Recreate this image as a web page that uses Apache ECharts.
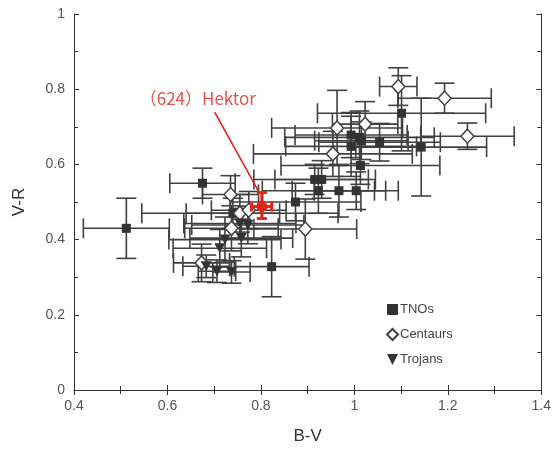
<!DOCTYPE html>
<html>
<head>
<meta charset="utf-8">
<script src="https://cdn.jsdelivr.net/npm/echarts@6/dist/echarts.min.js"></script>
<style>
  html, body { margin: 0; padding: 0; background: #fff; }
  #chart { width: 554px; height: 450px; }
</style>
</head>
<body>
<div id="chart"></div>
<script>
// [B-V, V-R, err B-V, err V-R]
const tnos = [
  [0.512, 0.43, 0.092, 0.08],
  [0.675, 0.55, 0.07, 0.04],
  [0.823, 0.328, 0.08, 0.08],
  [0.874, 0.50, 0.14, 0.05],
  [0.915, 0.56, 0.13, 0.04],
  [0.930, 0.56, 0.10, 0.05],
  [0.923, 0.53, 0.12, 0.06],
  [0.967, 0.53, 0.10, 0.07],
  [1.004, 0.53, 0.09, 0.05],
  [0.993, 0.678, 0.12, 0.06],
  [1.011, 0.672, 0.16, 0.07],
  [1.015, 0.663, 0.10, 0.05],
  [0.993, 0.648, 0.14, 0.08],
  [1.054, 0.659, 0.13, 0.05],
  [1.013, 0.597, 0.17, 0.05],
  [1.101, 0.736, 0.18, 0.10],
  [1.143, 0.646, 0.14, 0.13],
  [0.740, 0.47, 0.10, 0.04]
];
const centaurs = [
  [1.094, 0.807, 0.04, 0.05],
  [1.193, 0.776, 0.10, 0.04],
  [1.242, 0.675, 0.10, 0.035],
  [0.963, 0.697, 0.14, 0.10],
  [1.023, 0.707, 0.07, 0.06],
  [0.954, 0.628, 0.17, 0.06],
  [0.895, 0.428, 0.11, 0.08],
  [0.735, 0.52, 0.06, 0.05],
  [0.755, 0.47, 0.21, 0.05],
  [0.737, 0.43, 0.10, 0.06],
  [0.673, 0.338, 0.06, 0.05],
  [0.774, 0.478, 0.08, 0.05]
];
const trojans = [
  [0.755, 0.443, 0.12, 0.04],
  [0.772, 0.439, 0.12, 0.05],
  [0.758, 0.404, 0.11, 0.05],
  [0.723, 0.400, 0.12, 0.06],
  [0.712, 0.377, 0.10, 0.05],
  [0.683, 0.329, 0.05, 0.03],
  [0.706, 0.316, 0.04, 0.03],
  [0.737, 0.314, 0.04, 0.03]
];
// Hektor: [B-V, V-R, B-V lo, B-V hi, V-R lo, V-R hi]
const hektor = [[0.802, 0.488, 0.780, 0.823, 0.456, 0.525]];
const hektorLabel = '（624）Hektor';
const labelPos = [0.665, 0.776];
const arrowLine = [[0.701, 0.739], [0.795, 0.528]];

const xTicks = [0.4, 0.6, 0.8, 1, 1.2, 1.4];
const yTicks = [0, 0.2, 0.4, 0.6, 0.8, 1];

// rows -> [x, y, xlo, xhi, ylo, yhi]
function toErr(rows) {
  return rows.map(r => [r[0], r[1], r[0] - r[2], r[0] + r[2], r[1] - r[3], r[1] + r[3]]);
}

function errRender(color, width, cap) {
  return function (params, api) {
    const x = api.value(0), y = api.value(1);
    const l = api.coord([api.value(2), y]), r = api.coord([api.value(3), y]);
    const b = api.coord([x, api.value(4)]), t = api.coord([x, api.value(5)]);
    const st = { stroke: color, lineWidth: width, fill: null };
    const seg = (x1, y1, x2, y2) => ({ type: 'line', shape: { x1, y1, x2, y2 }, style: st });
    return {
      type: 'group',
      children: [
        seg(l[0], l[1], r[0], r[1]),
        seg(l[0], l[1] - cap, l[0], l[1] + cap),
        seg(r[0], r[1] - cap, r[0], r[1] + cap),
        seg(b[0], b[1], t[0], t[1]),
        seg(b[0] - cap, b[1], b[0] + cap, b[1]),
        seg(t[0] - cap, t[1], t[0] + cap, t[1])
      ]
    };
  };
}

const errData = toErr(tnos).concat(toErr(centaurs), toErr(trojans));
const triDown = 'path://M0,0 L10,0 L5,10 Z';
const ink = '#404040';
const red = '#e0251a';

const chart = echarts.init(document.getElementById('chart'));

const axisCommon = {
  type: 'value',
  axisLine: { show: true, lineStyle: { color: '#333', width: 1 } },
  axisTick: { show: true, inside: true, length: 5, lineStyle: { color: '#333' } },
  minorTick: { show: true, splitNumber: 2, length: 4, lineStyle: { color: '#333' } },
  splitLine: { show: false },
  interval: 0.2
};

chart.setOption({
  animation: false,
  backgroundColor: '#fff',
  grid: { left: 74, right: 12, top: 14, bottom: 57 },
  xAxis: [
    Object.assign({}, axisCommon, {
      min: 0.4, max: 1.4,
      name: 'B-V', nameLocation: 'middle', nameGap: 38,
      nameTextStyle: { fontFamily: 'Liberation Sans', fontSize: 17, color: '#333' },
      axisLabel: {
        margin: 9, fontFamily: 'Liberation Sans', fontSize: 14, color: '#555',
        formatter: v => {
          const m = xTicks.find(t => Math.abs(t - v) < 1e-6);
          return m === undefined ? '' : String(m);
        }
      }
    }),
    Object.assign({}, axisCommon, { min: 0.4, max: 1.4, position: 'top', axisLabel: { show: false } })
  ],
  yAxis: [
    Object.assign({}, axisCommon, {
      min: 0, max: 1,
      name: 'V-R', nameLocation: 'middle', nameGap: 46,
      nameTextStyle: { fontFamily: 'Liberation Sans', fontSize: 17, color: '#333' },
      axisLabel: {
        margin: 9, fontFamily: 'Liberation Sans', fontSize: 14, color: '#555',
        formatter: v => {
          const m = yTicks.find(t => Math.abs(t - v) < 1e-6);
          return m === undefined ? '' : String(m);
        }
      }
    }),
    Object.assign({}, axisCommon, { min: 0, max: 1, position: 'right', axisLabel: { show: false } })
  ],
  legend: {
    data: ['TNOs', 'Centaurs', 'Trojans'],
    orient: 'vertical',
    left: 381, top: 298,
    itemWidth: 11, itemHeight: 11, itemGap: 12,
    textStyle: { fontFamily: 'Liberation Sans', fontSize: 13, color: '#444', padding: [0, 0, 0, -3] }
  },
  series: [
    {
      type: 'custom',
      name: 'errors',
      renderItem: errRender(ink, 1.6, 10),
      data: errData,
      encode: { x: 0, y: 1 },
      silent: true,
      z: 1
    },
    {
      type: 'scatter', name: 'TNOs',
      data: tnos.map(r => [r[0], r[1]]),
      symbol: 'rect', symbolSize: 9,
      itemStyle: { color: '#333', opacity: 1 },
      z: 3
    },
    {
      type: 'scatter', name: 'Centaurs',
      data: centaurs.map(r => [r[0], r[1]]),
      symbol: 'diamond', symbolSize: [13, 14],
      itemStyle: { color: '#fff', borderColor: ink, borderWidth: 1.5, opacity: 1 },
      z: 4
    },
    {
      type: 'scatter', name: 'Trojans',
      data: trojans.map(r => [r[0], r[1]]),
      symbol: triDown, symbolSize: [11, 10],
      itemStyle: { color: '#333', opacity: 1 },
      z: 5
    },
    {
      type: 'line', name: 'arrow',
      data: arrowLine,
      symbol: 'none',
      lineStyle: { color: red, width: 1.6 },
      silent: true, z: 6
    },
    {
      type: 'custom', name: 'hektorErr',
      renderItem: errRender(red, 3, 5),
      data: hektor,
      encode: { x: 0, y: 1 },
      silent: true, z: 7
    },
    {
      type: 'scatter', name: 'Hektor',
      data: hektor.map(r => [r[0], r[1]]),
      symbol: 'circle', symbolSize: 11,
      itemStyle: { color: red, opacity: 1 },
      z: 8
    },
    {
      type: 'scatter', name: 'label',
      data: [labelPos],
      symbolSize: 0,
      silent: true,
      label: {
        show: true, position: 'inside', formatter: hektorLabel,
        fontFamily: 'Noto Sans CJK JP', fontSize: 17, color: red
      },
      z: 9
    }
  ]
});
</script>
</body>
</html>
